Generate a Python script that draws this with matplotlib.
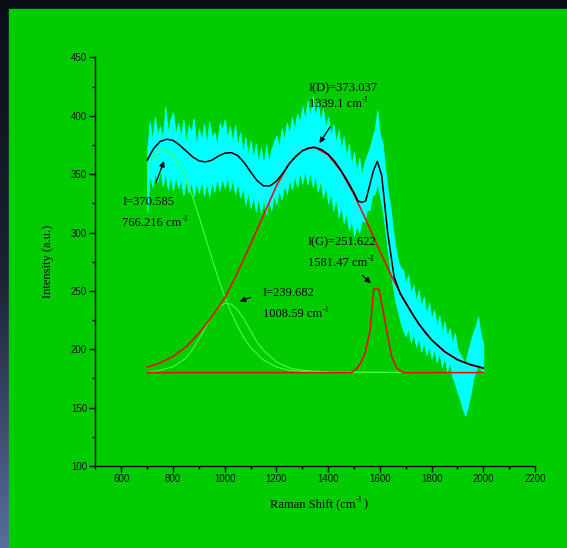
import numpy as np
import matplotlib
matplotlib.use('Agg')
import matplotlib.pyplot as plt
from matplotlib.patches import Rectangle
from matplotlib.ticker import MultipleLocator
from matplotlib.colors import LinearSegmentedColormap

# surowe widmo: dolna i gorna obwiednia szumu co 10 cm-1 (700..2000)
raman_x = np.arange(700, 2001, 10)
raw_hi = [372, 395, 378, 399, 384, 391, 380, 408, 386, 397,
          403, 385, 394, 381, 397, 377, 392, 386, 398, 375,
          389, 380, 393, 376, 395, 382, 386, 374, 394, 388,
          397, 381, 391, 377, 392, 375, 386, 368, 382, 366,
          379, 364, 376, 360, 373, 358, 375, 361, 371, 378,
          383, 373, 389, 380, 394, 385, 399, 388, 402, 394,
          408, 397, 413, 400, 417, 399, 411, 395, 406, 390,
          399, 383, 393, 377, 388, 371, 382, 365, 376, 358,
          369, 352, 364, 349, 360, 366, 372, 381, 388, 405,
          384, 377, 356, 337, 323, 303, 288, 276, 270, 268,
          256, 264, 247, 255, 241, 251, 236, 245, 230, 240,
          226, 234, 220, 229, 215, 224, 211, 218, 205, 214,
          200, 196, 192, 188, 198, 206, 214, 220, 228, 212,
          205]
raw_lo = [318, 350, 339, 352, 343, 354, 340, 351, 337, 349,
          336, 348, 338, 346, 332, 345, 334, 344, 331, 343,
          334, 345, 332, 343, 331, 344, 335, 346, 336, 347,
          338, 348, 336, 346, 333, 343, 330, 339, 324, 335,
          321, 332, 318, 330, 317, 329, 316, 328, 319, 332,
          324, 337, 328, 341, 333, 346, 337, 349, 339, 352,
          342, 353, 341, 352, 339, 349, 335, 345, 330, 340,
          325, 334, 319, 329, 313, 323, 308, 317, 302, 311,
          297, 306, 300, 311, 309, 320, 319, 332, 333, 342,
          331, 320, 303, 285, 268, 254, 240, 232, 223, 216,
          211, 218, 206, 214, 202, 210, 198, 206, 195, 203,
          192, 200, 189, 197, 185, 193, 181, 189, 176, 171,
          163, 157, 149, 143, 151, 161, 174, 181, 187, 183,
          180]

# dopasowanie sumaryczne (czarna linia)
fit_x = [700, 725, 750, 775, 800, 825, 850, 875, 900, 925, 950, 975, 1000, 1025,
         1050, 1075, 1100, 1125, 1150, 1175, 1200, 1225, 1250, 1275, 1300, 1325,
         1350, 1375, 1400, 1425, 1450, 1475, 1500, 1515, 1530, 1545, 1560, 1575,
         1590, 1607, 1630, 1655, 1680, 1700, 1725, 1750, 1775, 1800, 1850, 1900,
         1950, 2000]
fit_y = [362, 372, 378, 380, 379, 375, 370, 365, 361.5, 360.5, 362, 365.5, 368, 368.5,
         366, 360, 352, 344.5, 340, 340, 344, 351, 359, 365.5, 370, 372.5,
         373, 371, 367, 361, 353, 344, 334, 327, 326, 327, 340, 353,
         361, 349, 300, 262, 247, 240, 230.5, 222, 214.5, 208, 198, 191,
         187, 184]

# pasmo przy 766 (zielone)
p1_x = [700, 725, 750, 775, 800, 825, 850, 875, 900, 925, 950, 975, 1000, 1025,
        1050, 1075, 1100, 1150, 1200, 1250, 1300, 1400, 2000]
p1_y = [355, 364.5, 369.6, 370.3, 366.4, 358, 346, 331, 314, 296, 278, 261, 245,
        231.5, 219.5, 209.5, 201.6, 190.7, 184.8, 182, 181, 180.2, 180]

# pasmo przy 1008 (zielone)
p2_x = [700, 750, 800, 850, 875, 900, 925, 950, 975, 1000, 1025, 1050, 1075,
        1100, 1125, 1150, 1200, 1250, 1300, 1400, 2000]
p2_y = [180.2, 182, 185, 192.5, 199.7, 208.7, 218.6, 228.2, 235.6, 239.4, 238.7,
        233.8, 225.6, 215.8, 206, 199, 189, 184, 182, 180.5, 180]

# pasmo D (czerwone)
d_x = [700, 750, 800, 850, 900, 950, 1000, 1050, 1100, 1150, 1200, 1250, 1300,
       1339, 1350, 1400, 1450, 1500, 1550, 1600, 1650, 1700, 1750, 1800, 1850,
       1900, 1950, 2000]
d_y = [184.8, 188.3, 193.9, 202.2, 213.7, 228, 244, 266, 290, 315, 340, 359.5,
       370.3, 373, 372.8, 366.6, 352.5, 332.6, 309, 284.1, 260.4, 239.3, 221.8,
       208.2, 198.1, 191.2, 186.6, 183.7]

# pasmo G (czerwone)
g_x = [700, 1490, 1510, 1525, 1543, 1562, 1576, 1596, 1610, 1626, 1646, 1665, 1690, 2000]
g_y = [180, 180, 183.5, 188, 197, 216, 251.6, 251.6, 236, 216, 193.5, 184, 180, 180]

plt.rcParams['font.family'] = 'Liberation Serif'

fig = plt.figure(figsize=(5.67, 5.48), dpi=100)

# tlo: ciemny gradient + zielony panel
bg = fig.add_axes([0, 0, 1, 1], zorder=-10)
grad = np.linspace(0, 1, 256).reshape(-1, 1)
cmap_bg = LinearSegmentedColormap.from_list('bg', ['#0b0e15', '#1c2234', '#5a6d9e'])
bg.imshow(grad, aspect='auto', cmap=cmap_bg, extent=[0, 1, 0, 1], origin='upper')
bg.add_patch(Rectangle((9 / 567, 0), 1, 1 - 9 / 548, color='#00cc00', transform=bg.transAxes))
bg.set_axis_off()

ax = fig.add_axes([0.1684, 0.1496, 0.7752, 0.7455])
ax.set_facecolor('none')

ax.fill_between(raman_x, raw_lo, raw_hi, color='#00ffff', linewidth=0.6, edgecolor='#00ffff', zorder=1)
ax.plot(p1_x, p1_y, color='#44ff44', linewidth=0.8, zorder=2)
ax.plot(p2_x, p2_y, color='#44ff44', linewidth=0.8, zorder=2)
ax.plot(d_x, d_y, color='#ff0000', linewidth=1.1, zorder=3)
ax.plot(g_x, g_y, color='#ff0000', linewidth=1.1, zorder=3)
ax.plot(fit_x, fit_y, color='#000000', linewidth=1.1, zorder=4)

ax.set_xlim(500, 2200)
ax.set_ylim(100, 450)
ax.xaxis.set_minor_locator(MultipleLocator(100))
ax.yaxis.set_major_locator(MultipleLocator(50))
ax.yaxis.set_minor_locator(MultipleLocator(25))
ax.set_xticks([600, 800, 1000, 1200, 1400, 1600, 1800, 2000, 2200])
for s in ['top', 'right']:
    ax.spines[s].set_visible(False)
for s in ['left', 'bottom']:
    ax.spines[s].set_linewidth(1.0)
ax.tick_params(which='major', direction='out', length=4, width=1, pad=2)
ax.tick_params(which='minor', direction='out', length=2.5, width=1)
for lab in ax.get_xticklabels() + ax.get_yticklabels():
    lab.set_fontfamily('Liberation Sans')
    lab.set_fontsize(7)
    lab.set_color('#111111')

ax.set_ylabel('Intensity (a.u.)', fontsize=9, labelpad=12)


def with_sup(t, closing=''):
    # male "-1" w indeksie gornym za tekstem
    sup = ax.annotate('-1', xy=(1, 1), xycoords=t, xytext=(0.3, 1.5),
                      textcoords='offset points', fontsize=6, va='top', ha='left')
    if closing:
        ax.annotate(closing, xy=(1, 0), xycoords=(sup, t), xytext=(0.3, 0),
                    textcoords='offset points', fontsize=t.get_fontsize(), va='bottom', ha='left')


xl = fig.text(270 / 567, 1 - 504 / 548, 'Raman Shift (cm', fontsize=9, va='center', ha='left')
with_sup(xl, ')')

# opisy pikow
fs = 9
ax.text(1325, 424, 'I(D)=373.037', fontsize=fs, va='center')
with_sup(ax.text(1325, 410.5, '1339.1 cm', fontsize=fs, va='center'))
ax.annotate('', xy=(1360, 374.7), xytext=(1414, 392.6),
            arrowprops=dict(arrowstyle='-|>', color='black', lw=0.9, mutation_scale=8))

ax.text(603, 326, 'I=370.585', fontsize=fs, va='center')
with_sup(ax.text(603, 308.5, '766.216 cm', fontsize=fs, va='center'))
ax.annotate('', xy=(769, 363.5), xytext=(730, 340.5),
            arrowprops=dict(arrowstyle='-|>', color='black', lw=0.9, mutation_scale=8))

ax.text(1148, 248.3, 'I=239.682', fontsize=fs, va='center')
with_sup(ax.text(1148, 230, '1008.59 cm', fontsize=fs, va='center'))
ax.annotate('', xy=(1048, 240), xytext=(1110, 245.5),
            arrowprops=dict(arrowstyle='-|>', color='black', lw=0.9, mutation_scale=8))

ax.text(1322, 292, 'I(G)=251.622', fontsize=fs, va='center')
with_sup(ax.text(1322, 274, '1581.47 cm', fontsize=fs, va='center'))
ax.annotate('', xy=(1573, 255), xytext=(1524, 265),
            arrowprops=dict(arrowstyle='-|>', color='black', lw=0.9, mutation_scale=8))

fig.savefig('out.png', dpi=100)
